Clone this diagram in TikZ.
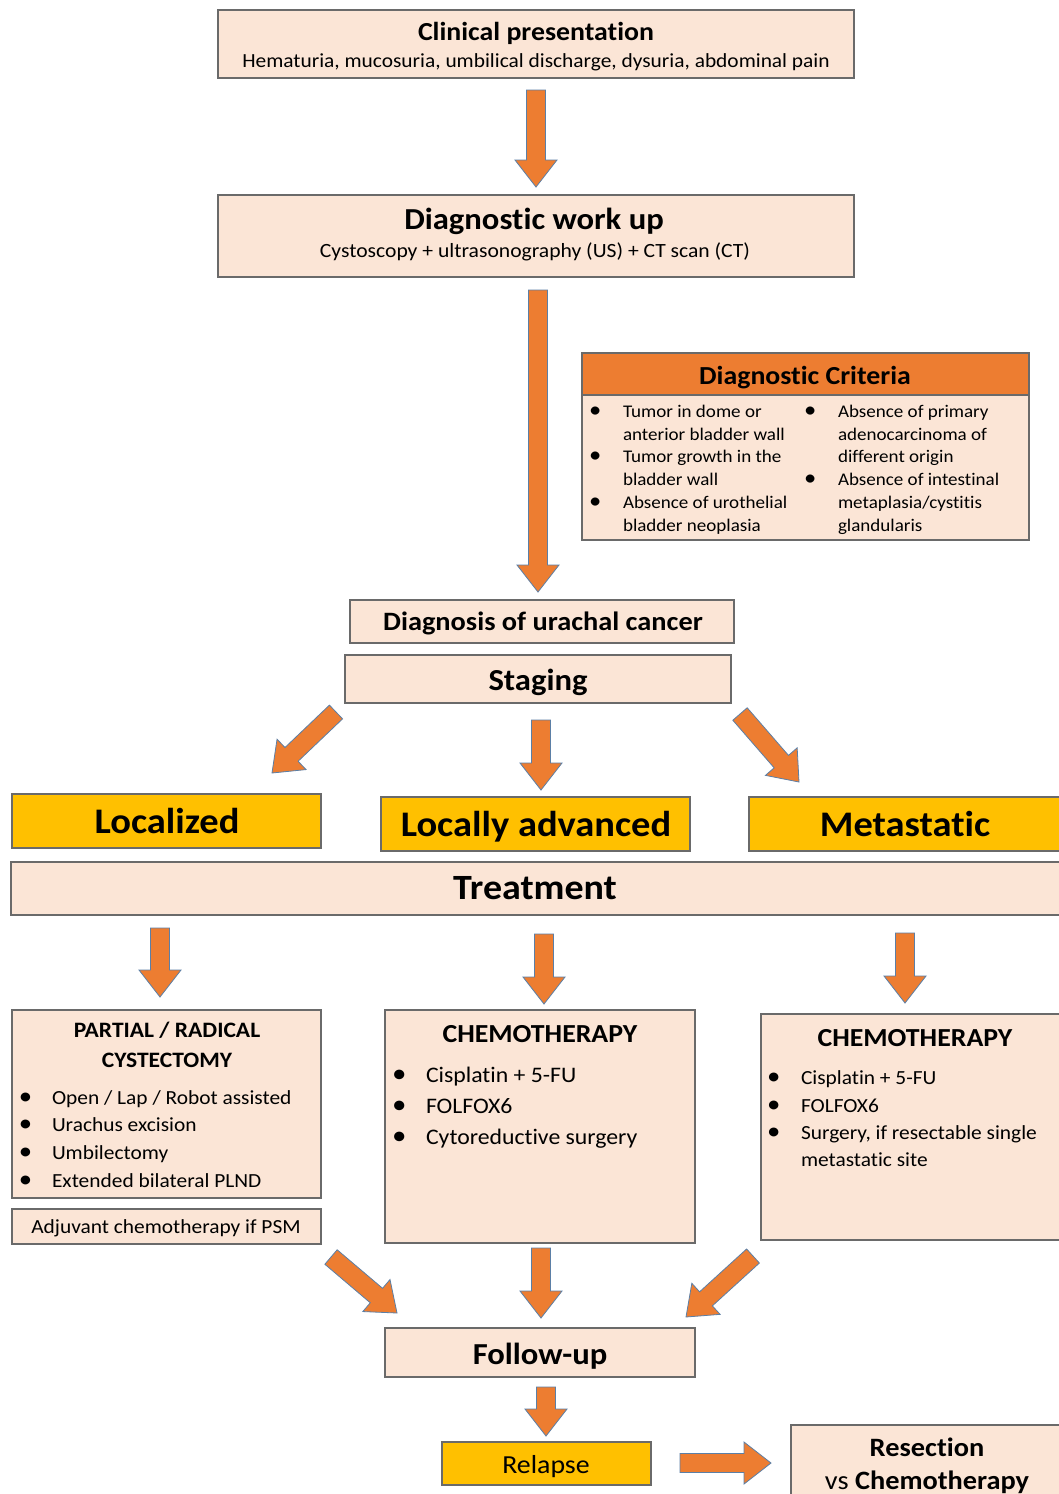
\documentclass[tikz,border=0pt]{standalone}
\usepackage{fontspec}
\setmainfont{Carlito}[FakeStretch=1.07, Ligatures=NoCommon]
\usetikzlibrary{calc,fit}
\definecolor{peach}{HTML}{FBE5D6}
\definecolor{boxline}{HTML}{6A6A6A}
\definecolor{orng}{HTML}{ED7D31}
\definecolor{arrline}{HTML}{5B7FA6}
\definecolor{yel}{HTML}{FFC000}
\newcommand\myfs[1]{\fontsize{#1}{#1}\selectfont}
\newcommand\bul[1]{{\fontsize{#1}{#1}\selectfont •}}
\tikzset{
  pbox/.style={draw=boxline, fill=peach, line width=1.1pt, inner sep=0pt, outer sep=0pt},
  ybox/.style={pbox, fill=yel},
  hbox/.style={pbox, fill=orng},
  barrow/.style={fill=orng, draw=arrline, line width=0.8pt, line join=miter},
  txt/.style={inner sep=0pt, outer sep=0pt, anchor=base},
  ltxt/.style={inner sep=0pt, outer sep=0pt, anchor=base west},
  btxt/.style={inner sep=0pt, outer sep=0pt, anchor=base},
}
% block arrow from #1 (tail) to #2 (tip)
\newcommand\barr[2]{%
  \coordinate (bh) at ($(#2)!27pt!(#1)$);
  \draw[barrow] ($(#1)!9.5pt!90:(#2)$) -- ($(bh)!9.5pt!90:(#2)$) -- ($(bh)!21pt!90:(#2)$)
     -- (#2) -- ($(bh)!21pt!-90:(#2)$) -- ($(bh)!9.5pt!-90:(#2)$) -- ($(#1)!9.5pt!-90:(#2)$) -- cycle;
}
\begin{document}
\begin{tikzpicture}[x=1pt,y=-1pt]
\useasboundingbox[fill=white] (0,0) rectangle (1059,1494);

% ---- boxes
\node[pbox, fit={(218,10) (854,78)}] (clin) {};
\node[pbox, fit={(218,195) (854,277)}] (diag) {};
\node[pbox, fit={(582,353) (1029,540)}] (crit) {};
\node[hbox, fit={(582,353) (1029,395)}] (critH) {};
\node[pbox, fit={(350,600) (734,643)}] (dx) {};
\node[pbox, fit={(345,655) (731,703)}] (stag) {};
\node[ybox, fit={(12,794) (321,848)}] (loc) {};
\node[ybox, fit={(381,797) (690,851)}] (lad) {};
\node[ybox, fit={(749,797) (1070,851)}] (met) {};
\node[pbox, fit={(11,862) (1070,915)}] (treat) {};
\node[pbox, fit={(12,1010) (321,1198)}] (cyst) {};
\node[pbox, fit={(12,1209) (321,1244)}] (adj) {};
\node[pbox, fit={(385,1010) (695,1243)}] (chm) {};
\node[pbox, fit={(761,1014) (1070,1240)}] (chr) {};
\node[pbox, fit={(385,1328) (695,1377)}] (fu) {};
\node[ybox, fit={(442,1442) (651,1485)}] (rel) {};
\node[pbox, fit={(791,1425) (1070,1510)}] (res) {};

% ---- texts
\node[txt, font=\bfseries\myfs{26}] (clinT) at (536,40) {Clinical presentation};
\node[txt, font=\myfs{20}] (clinS) at (536,67) {Hematuria, mucosuria, umbilical discharge, dysuria, abdominal pain};
\node[txt, font=\bfseries\myfs{30.5}] (diagT) at (534,229) {Diagnostic work up};
\node[txt, font=\myfs{20.2}] (diagS) at (535,257) {Cystoscopy + ultrasonography (US) + CT scan (CT)};
\node[txt, font=\bfseries\myfs{26}] (critT) at (805,384) {Diagnostic Criteria};
\begin{scope}[every node/.style={ltxt, font=\myfs{17.8}}]
  \node (cb1) at (589,417) {\bul{23}}; \node (ct1) at (623,417) {Tumor in dome or};
  \node (ct2) at (623,440) {anterior bladder wall};
  \node (cb3) at (589,462) {\bul{23}}; \node (ct3) at (623,462) {Tumor growth in the};
  \node (ct4) at (623,485) {bladder wall};
  \node (cb5) at (589,508) {\bul{23}}; \node (ct5) at (623,508) {Absence of urothelial};
  \node (ct6) at (623,531) {bladder neoplasia};
  \node (cb7) at (804,417) {\bul{23}}; \node (ct7) at (838,417) {Absence of primary};
  \node (ct8) at (838,440) {adenocarcinoma of};
  \node (ct9) at (838,462) {different origin};
  \node (cb10) at (804,485) {\bul{23}}; \node (ct10) at (838,485) {Absence of intestinal};
  \node (ct11) at (838,508) {metaplasia/cystitis};
  \node (ct12) at (838,531) {glandularis};
\end{scope}
\node[txt, font=\bfseries\myfs{26.5}] (dxT) at (543,630) {Diagnosis of urachal cancer};
\node[txt, font=\bfseries\myfs{30.5}] (stagT) at (538,690) {Staging};
\node[txt, font=\bfseries\myfs{36}] (locT) at (167,833) {Localized};
\node[txt, font=\bfseries\myfs{36}] (ladT) at (536,836) {Locally advanced};
\node[txt, font=\bfseries\myfs{36}] (metT) at (905,836) {Metastatic};
\node[txt, font=\bfseries\myfs{35.5}] (treatT) at (535,899) {Treatment};

\node[txt, font=\bfseries\myfs{22}] (cystT1) at (167,1037) {PARTIAL / RADICAL};
\node[txt, font=\bfseries\myfs{22}] (cystT2) at (167,1067) {CYSTECTOMY};
\begin{scope}[every node/.style={ltxt, font=\myfs{20}}]
  \node (yb1) at (19,1104) {\bul{25}}; \node (yt1) at (52,1104) {Open / Lap / Robot assisted};
  \node (yb2) at (19,1131) {\bul{25}}; \node (yt2) at (52,1131) {Urachus excision};
  \node (yb3) at (19,1159) {\bul{25}}; \node (yt3) at (52,1159) {Umbilectomy};
  \node (yb4) at (19,1187) {\bul{25}}; \node (yt4) at (52,1187) {Extended bilateral PLND};
\end{scope}
\node[txt, font=\myfs{20}] (adjT) at (166,1233) {Adjuvant chemotherapy if PSM};

\node[txt, font=\bfseries\myfs{26}] (chmT) at (540,1042) {CHEMOTHERAPY};
\begin{scope}[every node/.style={ltxt, font=\myfs{22.2}}]
  \node (mb1) at (392,1082) {\bul{27}}; \node (mt1) at (426,1082) {Cisplatin + 5-FU};
  \node (mb2) at (392,1113) {\bul{27}}; \node (mt2) at (426,1113) {FOLFOX6};
  \node (mb3) at (392,1144) {\bul{27}}; \node (mt3) at (426,1144) {Cytoreductive surgery};
\end{scope}
\node[txt, font=\bfseries\myfs{26}] (chrT) at (915,1046) {CHEMOTHERAPY};
\begin{scope}[every node/.style={ltxt, font=\myfs{20}}]
  \node (rb1) at (767,1084) {\bul{25}}; \node (rt1) at (801,1084) {Cisplatin + 5-FU};
  \node (rb2) at (767,1112) {\bul{25}}; \node (rt2) at (801,1112) {FOLFOX6};
  \node (rb3) at (767,1139) {\bul{25}}; \node (rt3) at (801,1139) {Surgery, if resectable single};
  \node (rt4) at (801,1166) {metastatic site};
\end{scope}
\node[txt, font=\bfseries\myfs{30.5}] (fuT) at (540,1364) {Follow-up};
\node[txt, font=\myfs{26}] (relT) at (546,1473) {Relapse};
\node[txt, font=\bfseries\myfs{26.5}] (resT1) at (927,1456) {Resection};
\node[txt, font=\myfs{26.5}] (resT2) at (927,1489) {vs \textbf{Chemotherapy}};

% ---- block arrows
\coordinate (a1s) at (536,90);  \coordinate (a1e) at (536,187);
\coordinate (a2s) at (538,290); \coordinate (a2e) at (538,592);
\coordinate (a3s) at (336,712); \coordinate (a3e) at (272,773);
\coordinate (a4s) at (541,720); \coordinate (a4e) at (541,790);
\coordinate (a5s) at (740,714); \coordinate (a5e) at (799,782);
\coordinate (a6s) at (160,928); \coordinate (a6e) at (160,997);
\coordinate (a7s) at (544,934); \coordinate (a7e) at (544,1004);
\coordinate (a8s) at (905,933); \coordinate (a8e) at (905,1003);
\coordinate (a9s) at (331,1257); \coordinate (a9e) at (397,1313);
\coordinate (a10s) at (541,1248); \coordinate (a10e) at (541,1318);
\coordinate (a11s) at (753,1256); \coordinate (a11e) at (686,1317);
\coordinate (a12s) at (546,1387); \coordinate (a12e) at (546,1436);
\coordinate (a13s) at (680,1463); \coordinate (a13e) at (771,1463);
\barr{a1s}{a1e}
\barr{a2s}{a2e}
\barr{a3s}{a3e}
\barr{a4s}{a4e}
\barr{a5s}{a5e}
\barr{a6s}{a6e}
\barr{a7s}{a7e}
\barr{a8s}{a8e}
\barr{a9s}{a9e}
\barr{a10s}{a10e}
\barr{a11s}{a11e}
\barr{a12s}{a12e}
\barr{a13s}{a13e}
\end{tikzpicture}
\end{document}
